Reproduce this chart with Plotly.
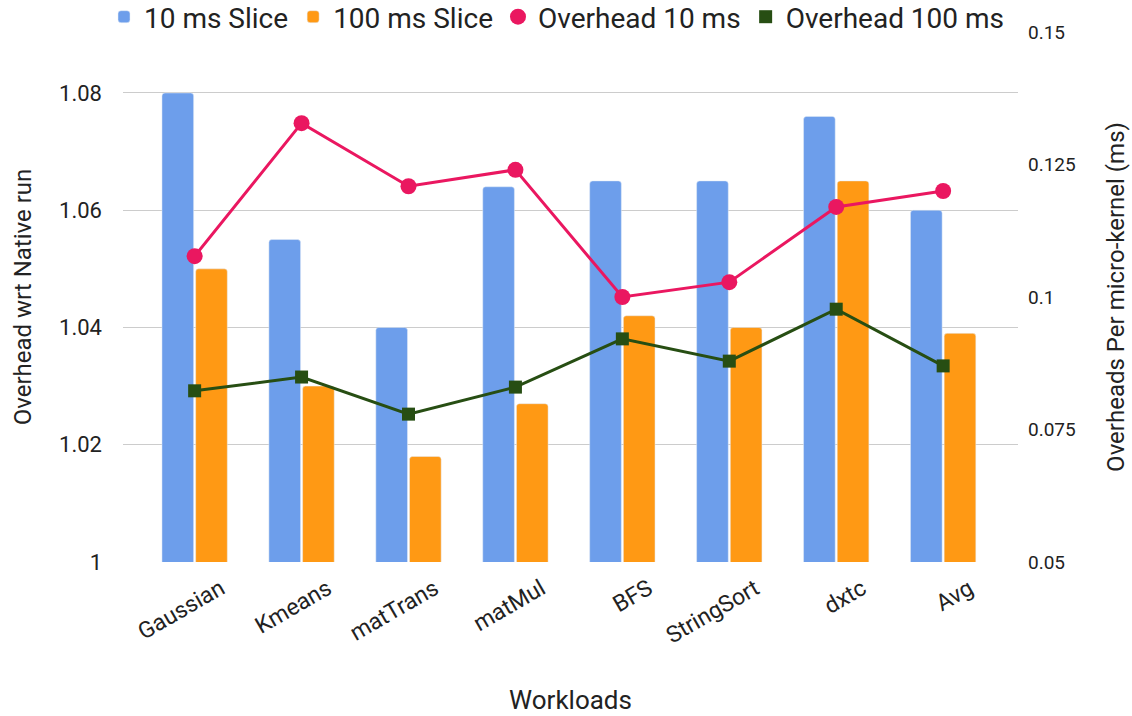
import plotly.graph_objects as go

# Workload categories and measured values
workloads = ["Gaussian", "Kmeans", "matTrans", "matMul", "BFS", "StringSort", "dxtc", "Avg"]
slice_10ms = [1.080, 1.055, 1.040, 1.064, 1.065, 1.065, 1.076, 1.060]
slice_100ms = [1.050, 1.030, 1.018, 1.027, 1.042, 1.040, 1.065, 1.039]
overhead_10ms = [0.1077, 0.1328, 0.1209, 0.1240, 0.1000, 0.1028, 0.1170, 0.1200]
overhead_100ms = [0.0823, 0.0849, 0.0779, 0.0830, 0.0921, 0.0879, 0.0977, 0.0870]

left_ticks = [1, 1.02, 1.04, 1.06, 1.08]
left_labels = ["1", "1.02", "1.04", "1.06", "1.08"]
right_ticks = [0.05, 0.075, 0.1, 0.125, 0.15]
right_labels = ["0.05", "0.075", "0.1", "0.125", "0.15"]

BLUE = "#6d9eeb"
ORANGE = "#ff9914"
PINK = "#ea1760"
GREEN = "#274e13"
TEXT = "#222222"
FONT = "Roboto"

W, H = 1132, 716
M_L, M_R, M_T, M_B = 123, 114, 32, 154
PLOT_W = W - M_L - M_R
PLOT_H = H - M_T - M_B

fig = go.Figure()

fig.add_trace(go.Bar(x=workloads, y=slice_10ms, name="10 ms Slice",
                     marker=dict(color=BLUE, cornerradius=3)))
fig.add_trace(go.Bar(x=workloads, y=slice_100ms, name="100 ms Slice",
                     marker=dict(color=ORANGE, cornerradius=3)))

fig.add_trace(go.Scatter(x=workloads, y=overhead_10ms, yaxis="y2", mode="lines+markers",
                         line=dict(color=PINK, width=3),
                         marker=dict(color=PINK, size=16, symbol="circle"),
                         showlegend=False))
fig.add_trace(go.Scatter(x=workloads, y=overhead_100ms, yaxis="y2", mode="lines+markers",
                         line=dict(color=GREEN, width=3),
                         marker=dict(color=GREEN, size=13, symbol="square"),
                         showlegend=False))

# marker-only legend entries for the two line series
fig.add_trace(go.Scatter(x=[None], y=[None], yaxis="y2", mode="markers", name="Overhead 10 ms",
                         marker=dict(color=PINK, size=21, symbol="circle")))
fig.add_trace(go.Scatter(x=[None], y=[None], yaxis="y2", mode="markers", name="Overhead 100 ms",
                         marker=dict(color=GREEN, size=13, symbol="square")))

fig.update_layout(
    width=W, height=H,
    margin=dict(l=M_L, r=M_R, t=M_T, b=M_B, autoexpand=False),
    paper_bgcolor="white", plot_bgcolor="white",
    font=dict(family=FONT, color=TEXT),
    barmode="group", bargap=0.37, bargroupgap=0.06,
    legend=dict(orientation="h",
                x=(104 - M_L) / PLOT_W, xref="paper", xanchor="left",
                y=1 + (M_T - 17) / PLOT_H, yref="paper", yanchor="middle",
                font=dict(size=28, family=FONT, color=TEXT),
                itemsizing="trace", traceorder="normal", tracegroupgap=0,
                bgcolor="rgba(0,0,0,0)"),
    xaxis=dict(range=[-0.67, 7.70], tickangle=-30, showgrid=False, showline=False,
               ticklabelshift=26, ticklabelstandoff=8,
               tickfont=dict(size=23, family=FONT, color=TEXT),
               title=dict(text="Workloads", font=dict(size=26, family=FONT, color=TEXT),
                          standoff=42)),
    yaxis=dict(range=[1.0, 1.0904], tickvals=left_ticks, ticktext=left_labels,
               showgrid=True, gridcolor="#cccccc", gridwidth=1, zeroline=False, showline=False,
               ticklabelstandoff=20,
               tickfont=dict(size=22, family=FONT, color=TEXT),
               title=dict(text="Overhead wrt Native run",
                          font=dict(size=24, family=FONT, color=TEXT), standoff=20)),
    yaxis2=dict(range=[0.05, 0.15], overlaying="y", side="right",
                tickvals=right_ticks, ticktext=right_labels, showgrid=False, zeroline=False,
                showline=False, ticklabelstandoff=9,
                tickfont=dict(size=19, family=FONT, color=TEXT),
                title=dict(text="Overheads Per micro-kernel (ms)",
                           font=dict(size=24, family=FONT, color=TEXT), standoff=32)),
)

fig.write_html("out.html")
